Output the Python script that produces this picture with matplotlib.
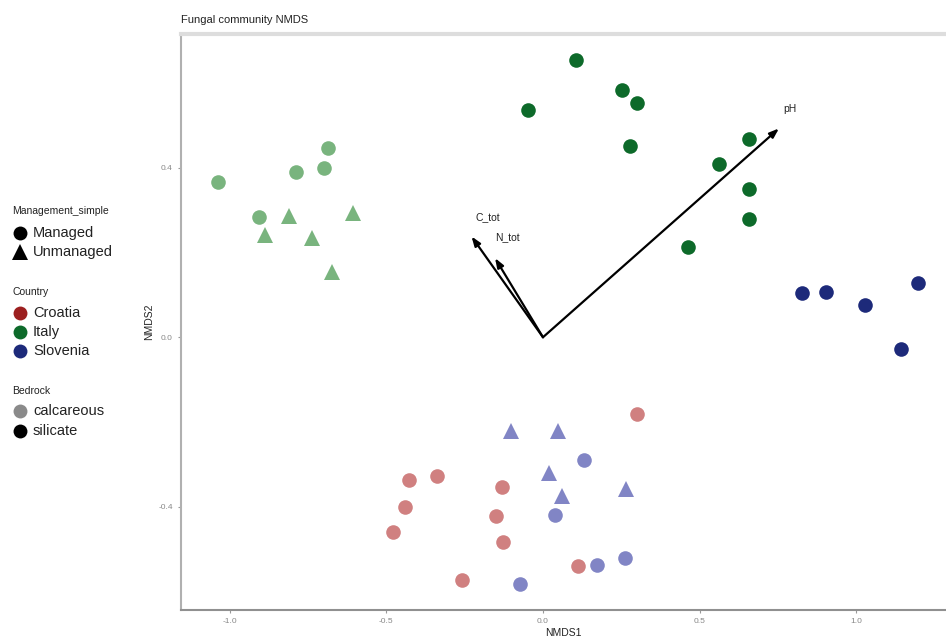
import matplotlib
matplotlib.use("Agg")
import matplotlib.pyplot as plt
from matplotlib.lines import Line2D

plt.rcParams['font.family'] = ['Liberation Sans', 'DejaVu Sans']
plt.rcParams['axes.unicode_minus'] = False

# NMDS site scores, grouped by country / bedrock / management
italy_calc_managed_x = [-1.038, -0.788, -0.700, -0.687, -0.906]
italy_calc_managed_y = [0.366, 0.389, 0.399, 0.447, 0.283]
italy_calc_unmanaged_x = [-0.811, -0.606, -0.886, -0.737, -0.674]
italy_calc_unmanaged_y = [0.287, 0.293, 0.241, 0.235, 0.154]

italy_sil_x = [0.105, -0.047, 0.252, 0.301, 0.277, 0.658, 0.562, 0.658, 0.656, 0.464]
italy_sil_y = [0.654, 0.536, 0.583, 0.554, 0.451, 0.468, 0.409, 0.350, 0.279, 0.212]

slovenia_sil_x = [0.828, 0.904, 1.026, 1.196, 1.141]
slovenia_sil_y = [0.104, 0.107, 0.076, 0.129, -0.028]

croatia_calc_x = [0.299, -0.427, -0.339, -0.441, -0.479, -0.130, -0.151, -0.127, 0.113, -0.257]
croatia_calc_y = [-0.182, -0.338, -0.327, -0.401, -0.460, -0.353, -0.422, -0.484, -0.539, -0.573]

slovenia_calc_managed_x = [0.130, 0.038, 0.262, 0.171, -0.072]
slovenia_calc_managed_y = [-0.289, -0.420, -0.521, -0.537, -0.582]
slovenia_calc_unmanaged_x = [-0.103, 0.049, 0.018, 0.060, 0.265]
slovenia_calc_unmanaged_y = [-0.221, -0.221, -0.320, -0.374, -0.358]

# environmental fit vectors
env_names = ['pH', 'C_tot', 'N_tot']
env_x = [0.753, -0.228, -0.153]
env_y = [0.493, 0.238, 0.187]
env_label_x = [0.788, -0.175, -0.112]
env_label_y = [0.539, 0.284, 0.237]

dark_green = '#0d6a2a'
light_green = '#79b47e'
light_red = '#d08080'
dark_red = '#9c1f1f'
light_blue = '#8185c5'
dark_blue = '#1d2a7a'

W, H = 946, 638
fig = plt.figure(figsize=(W / 100, H / 100), dpi=100)
ax = fig.add_axes([181 / W, 1 - 610 / H, 1 - 181 / W, (610 - 34) / H])

ms = 10.5
mt = 12
ax.plot(italy_calc_managed_x, italy_calc_managed_y, 'o', color=light_green, ms=ms, mew=0)
ax.plot(italy_calc_unmanaged_x, italy_calc_unmanaged_y, '^', color=light_green, ms=mt, mew=0)
ax.plot(italy_sil_x, italy_sil_y, 'o', color=dark_green, ms=ms, mew=0)
ax.plot(slovenia_sil_x, slovenia_sil_y, 'o', color=dark_blue, ms=ms, mew=0)
ax.plot(croatia_calc_x, croatia_calc_y, 'o', color=light_red, ms=ms, mew=0)
ax.plot(slovenia_calc_managed_x, slovenia_calc_managed_y, 'o', color=light_blue, ms=ms, mew=0)
ax.plot(slovenia_calc_unmanaged_x, slovenia_calc_unmanaged_y, '^', color=light_blue, ms=mt, mew=0)

for name, ex, ey, lx, ly in zip(env_names, env_x, env_y, env_label_x, env_label_y):
    ax.annotate('', xy=(ex, ey), xytext=(0, 0),
                arrowprops=dict(arrowstyle='-|>,head_length=0.55,head_width=0.2',
                                color='black', lw=1.6, shrinkA=0, shrinkB=0))
    ax.text(lx, ly, name, fontsize=7.5, color='#222222', ha='center', va='center')

ax.set_xlim(-1.155, 1.286)
ax.set_ylim(-0.644, 0.716)
ax.set_xticks([-1.0, -0.5, 0.0, 0.5, 1.0])
ax.set_yticks([-0.4, 0.0, 0.4])
ax.tick_params(labelsize=6, colors='#999999', length=2.5, width=0.8)
for lab in ax.get_xticklabels() + ax.get_yticklabels():
    lab.set_color('#888888')
ax.set_xlabel('NMDS1', fontsize=7.5, color='#222222', labelpad=2)
ax.set_ylabel('NMDS2', fontsize=7.5, color='#222222', labelpad=3)
ax.spines['right'].set_visible(False)
ax.spines['left'].set_color('#b0b0b0')
ax.spines['left'].set_linewidth(1.5)
ax.spines['bottom'].set_color('#909090')
ax.spines['bottom'].set_linewidth(1.5)
ax.spines['top'].set_color('#dddddd')
ax.spines['top'].set_linewidth(3)

fig.text(181 / W, 1 - 20 / H, 'Fungal community NMDS', fontsize=8, color='#222222',
         ha='left', va='center')


# legend blocks on the left
def px(x, y):
    return x / W, 1 - y / H


def legend_title(y, text):
    fig.text(*px(12, y), text, fontsize=7.5, color='#222222', ha='left', va='center')


def legend_item(y, marker, color, text, size=10):
    fig.add_artist(Line2D([20 / W], [1 - y / H], transform=fig.transFigure, marker=marker,
                          color=color, ms=size, mew=0, linestyle='none'))
    fig.text(*px(33, y), text, fontsize=10.5, color='#222222', ha='left', va='center')


legend_title(211, 'Management_simple')
legend_item(233, 'o', 'black', 'Managed')
legend_item(252, '^', 'black', 'Unmanaged', 11)

legend_title(292, 'Country')
legend_item(313, 'o', dark_red, 'Croatia')
legend_item(332, 'o', dark_green, 'Italy')
legend_item(351, 'o', dark_blue, 'Slovenia')

legend_title(391, 'Bedrock')
legend_item(411, 'o', '#8a8a8a', 'calcareous')
legend_item(431, 'o', 'black', 'silicate')

fig.savefig('out.png', dpi=100)
